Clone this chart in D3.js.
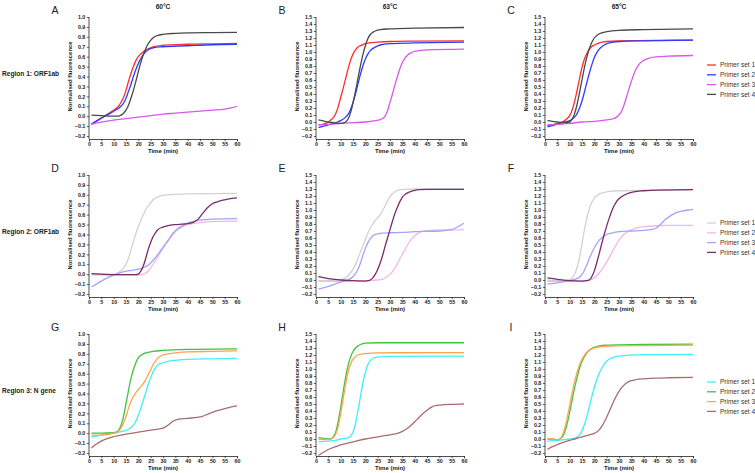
<!DOCTYPE html>
<html><head><meta charset="utf-8">
<script src="https://cdn.jsdelivr.net/npm/d3@7"></script>
<style>body{margin:0;background:#fff}svg{display:block}text{font-family:"Liberation Sans",Arial,sans-serif}</style>
</head><body><svg id="c" width="755" height="473"></svg>
<script>
// ---------- labels ----------
const temps = ["60°C", "63°C", "65°C"];
const panelLetters = ["A","B","C","D","E","F","G","H","I"];
const regionLabels = ["Region 1: ORF1ab", "Region 2: ORF1ab", "Region 3: N gene"];
const seriesNames = ["Primer set 1", "Primer set 2", "Primer set 3", "Primer set 4"];
const yMaxByPanel = [1.0, 1.5, 1.5, 1.0, 1.5, 1.5, 1.0, 1.5, 1.5];
const yMin = -0.2;
const xTicks = [0,5,10,15,20,25,30,35,40,45,50,55,60];
const xTitle = "Time (min)";
const yTitle = "Normalised fluorescence";

// ---------- data: [time (min), normalised fluorescence] ----------
const A1 = [[1,-0.08],[3,-0.05],[5,-0.02],[8,0.03],[10,0.06],[12,0.10],[13,0.14],[14,0.19],[15,0.26],[16,0.35],[17,0.43],[18,0.50],[19,0.56],[20,0.60],[22,0.65],[24,0.68],[26,0.70],[30,0.715],[40,0.725],[50,0.73],[60,0.735]];
const A2 = [[1,-0.08],[3,-0.05],[5,-0.02],[8,0.02],[10,0.05],[12,0.08],[13,0.10],[14,0.13],[15,0.18],[16,0.25],[17,0.32],[18,0.40],[19,0.47],[20,0.53],[21,0.58],[22,0.62],[24,0.67],[26,0.69],[30,0.70],[40,0.71],[50,0.72],[60,0.725]];
const A3 = [[1,-0.08],[5,-0.06],[10,-0.04],[15,-0.025],[20,-0.01],[25,0.005],[30,0.02],[35,0.03],[40,0.04],[45,0.05],[50,0.06],[55,0.07],[58,0.085],[60,0.10]];
const A4 = [[1,0.01],[5,0.005],[10,0.0],[12,0.0],[13,0.01],[14,0.03],[15,0.06],[16,0.11],[17,0.18],[18,0.26],[19,0.35],[20,0.45],[21,0.54],[22,0.62],[23,0.68],[24,0.73],[25,0.765],[26,0.79],[28,0.815],[30,0.825],[35,0.835],[40,0.84],[50,0.843],[60,0.845]];

const B1 = [[1,-0.04],[3,-0.03],[5,0.0],[6,0.03],[7,0.06],[8,0.12],[9,0.22],[10,0.35],[11,0.48],[12,0.62],[13,0.76],[14,0.88],[15,0.97],[16,1.03],[17,1.07],[18,1.09],[20,1.12],[25,1.14],[30,1.15],[40,1.155],[60,1.16]];
const B2 = [[1,-0.08],[3,-0.06],[5,-0.04],[8,-0.01],[10,0.02],[12,0.07],[13,0.11],[14,0.18],[15,0.28],[16,0.40],[17,0.54],[18,0.68],[19,0.80],[20,0.90],[21,0.97],[22,1.02],[24,1.07],[26,1.10],[30,1.12],[40,1.13],[60,1.14]];
const B3 = [[1,-0.04],[5,-0.035],[10,-0.02],[15,-0.01],[20,0.0],[24,0.02],[26,0.035],[27,0.05],[28,0.08],[29,0.16],[30,0.28],[31,0.40],[32,0.53],[33,0.65],[34,0.76],[35,0.85],[36,0.91],[37,0.95],[38,0.98],[40,1.01],[45,1.03],[60,1.04]];
const B4 = [[1,0.03],[3,0.015],[5,0.0],[8,-0.015],[10,-0.02],[11,-0.015],[12,0.0],[13,0.04],[14,0.13],[15,0.27],[16,0.44],[17,0.62],[18,0.80],[19,0.96],[20,1.09],[21,1.19],[22,1.25],[23,1.28],[24,1.30],[26,1.32],[30,1.33],[40,1.34],[60,1.35]];

const C1 = [[1,-0.05],[3,-0.04],[5,-0.02],[8,0.02],[9,0.05],[10,0.09],[11,0.17],[12,0.29],[13,0.45],[14,0.62],[15,0.78],[16,0.90],[17,0.98],[18,1.04],[19,1.08],[20,1.10],[22,1.13],[25,1.15],[30,1.16],[60,1.17]];
const C2 = [[1,-0.07],[3,-0.05],[5,-0.03],[8,0.0],[10,0.02],[11,0.04],[12,0.07],[13,0.12],[14,0.20],[15,0.30],[16,0.43],[17,0.57],[18,0.70],[19,0.82],[20,0.92],[21,0.99],[22,1.04],[24,1.10],[26,1.13],[30,1.15],[40,1.16],[60,1.17]];
const C3 = [[1,-0.04],[5,-0.035],[10,-0.02],[15,0.0],[20,0.01],[25,0.03],[28,0.05],[29,0.07],[30,0.10],[31,0.15],[32,0.24],[33,0.35],[34,0.47],[35,0.58],[36,0.68],[37,0.76],[38,0.82],[40,0.88],[42,0.91],[45,0.93],[50,0.94],[60,0.95]];
const C4 = [[1,0.02],[3,0.01],[5,0.0],[8,-0.01],[10,0.0],[11,0.04],[12,0.12],[13,0.25],[14,0.42],[15,0.60],[16,0.78],[17,0.93],[18,1.05],[19,1.14],[20,1.20],[22,1.26],[25,1.29],[30,1.31],[40,1.32],[60,1.33]];

const D1 = [[1,0.0],[5,0.0],[10,0.0],[12,0.02],[14,0.06],[15,0.10],[16,0.16],[17,0.24],[18,0.33],[19,0.41],[20,0.48],[21,0.54],[22,0.60],[23,0.65],[24,0.69],[25,0.72],[26,0.75],[28,0.78],[30,0.795],[35,0.805],[40,0.81],[60,0.815]];
const D2 = [[1,-0.01],[10,-0.01],[20,-0.01],[22,0.0],[24,0.03],[25,0.06],[26,0.10],[28,0.18],[30,0.26],[32,0.33],[34,0.40],[36,0.45],[38,0.48],[40,0.50],[42,0.51],[45,0.52],[50,0.53],[60,0.535]];
const D3 = [[1,-0.13],[3,-0.10],[5,-0.07],[8,-0.03],[10,-0.01],[12,0.01],[15,0.03],[18,0.04],[20,0.05],[22,0.065],[24,0.09],[26,0.14],[28,0.20],[30,0.27],[32,0.34],[34,0.41],[36,0.46],[38,0.49],[40,0.515],[42,0.53],[45,0.545],[50,0.555],[60,0.56]];
const D4 = [[1,0.005],[5,0.0],[10,-0.005],[15,-0.005],[19,-0.005],[20,0.0],[21,0.03],[22,0.08],[23,0.16],[24,0.25],[25,0.32],[26,0.38],[27,0.42],[28,0.45],[30,0.475],[32,0.49],[35,0.50],[38,0.505],[40,0.51],[42,0.52],[44,0.55],[46,0.61],[48,0.67],[50,0.71],[52,0.73],[55,0.75],[58,0.765],[60,0.77]];

const E1 = [[1,-0.01],[5,-0.01],[10,0.0],[12,0.03],[14,0.10],[16,0.22],[18,0.40],[20,0.58],[21,0.67],[22,0.74],[23,0.80],[24,0.85],[25,0.89],[26,0.93],[27,0.99],[28,1.06],[29,1.13],[30,1.19],[32,1.26],[34,1.29],[36,1.295],[40,1.30],[60,1.30]];
const E2 = [[1,-0.02],[10,-0.02],[20,-0.01],[25,0.0],[27,0.01],[28,0.03],[30,0.08],[32,0.17],[34,0.30],[36,0.43],[38,0.55],[40,0.63],[42,0.68],[44,0.70],[46,0.71],[50,0.715],[55,0.715],[60,0.72]];
const E3 = [[1,-0.13],[5,-0.09],[10,-0.03],[12,-0.01],[14,0.02],[15,0.05],[16,0.09],[17,0.15],[18,0.24],[19,0.35],[20,0.45],[21,0.53],[22,0.59],[23,0.63],[24,0.65],[25,0.66],[27,0.67],[30,0.675],[35,0.68],[40,0.69],[45,0.695],[50,0.70],[53,0.71],[55,0.72],[57,0.75],[60,0.81]];
const E4 = [[1,0.05],[3,0.035],[5,0.02],[8,0.01],[10,0.0],[15,-0.01],[20,-0.015],[21,-0.01],[22,0.0],[23,0.03],[24,0.08],[25,0.15],[26,0.24],[27,0.35],[28,0.48],[29,0.60],[30,0.72],[31,0.84],[32,0.95],[33,1.04],[34,1.12],[35,1.18],[36,1.22],[38,1.26],[40,1.28],[42,1.29],[45,1.295],[60,1.295]];

const F1 = [[1,0.0],[5,-0.01],[10,0.0],[11,0.03],[12,0.08],[13,0.18],[14,0.33],[15,0.52],[16,0.72],[17,0.89],[18,1.02],[19,1.11],[20,1.17],[22,1.23],[24,1.25],[26,1.265],[30,1.275],[40,1.28],[60,1.29]];
const F2 = [[1,-0.02],[10,-0.02],[15,-0.015],[18,0.0],[20,0.03],[22,0.10],[24,0.20],[26,0.32],[28,0.45],[30,0.57],[32,0.65],[34,0.70],[36,0.73],[38,0.75],[40,0.76],[45,0.775],[50,0.78],[60,0.78]];
const F3 = [[1,-0.06],[5,-0.04],[10,-0.01],[12,0.01],[14,0.04],[15,0.08],[16,0.14],[17,0.22],[18,0.31],[19,0.39],[20,0.46],[21,0.52],[22,0.57],[23,0.60],[24,0.63],[25,0.65],[27,0.67],[30,0.69],[35,0.70],[40,0.71],[43,0.72],[45,0.74],[47,0.80],[49,0.87],[51,0.92],[53,0.96],[55,0.98],[58,1.00],[60,1.01]];
const F4 = [[1,0.03],[5,0.01],[10,-0.01],[15,-0.015],[17,-0.01],[18,0.0],[19,0.05],[20,0.13],[21,0.25],[22,0.38],[23,0.52],[24,0.65],[25,0.77],[26,0.88],[27,0.98],[28,1.06],[29,1.12],[30,1.16],[32,1.21],[34,1.24],[36,1.26],[40,1.275],[45,1.285],[60,1.29]];

const G1 = [[1,-0.04],[5,-0.02],[10,0.0],[12,0.01],[14,0.02],[16,0.04],[18,0.08],[19,0.12],[20,0.18],[21,0.25],[22,0.33],[23,0.41],[24,0.49],[25,0.56],[26,0.62],[27,0.66],[28,0.69],[30,0.71],[32,0.725],[35,0.735],[40,0.745],[50,0.75],[60,0.755]];
const G2 = [[1,0.0],[5,0.0],[10,0.005],[11,0.01],[12,0.03],[13,0.08],[14,0.17],[15,0.30],[16,0.43],[17,0.55],[18,0.64],[19,0.71],[20,0.76],[22,0.80],[24,0.815],[26,0.825],[30,0.835],[40,0.845],[60,0.85]];
const G3 = [[1,-0.02],[5,-0.02],[10,0.0],[12,0.02],[13,0.05],[14,0.10],[15,0.17],[16,0.25],[17,0.32],[18,0.37],[19,0.41],[20,0.44],[21,0.47],[22,0.50],[23,0.54],[24,0.59],[25,0.64],[26,0.69],[27,0.73],[28,0.76],[30,0.79],[32,0.80],[35,0.81],[40,0.82],[50,0.825],[60,0.83]];
const G4 = [[1,-0.15],[3,-0.11],[5,-0.08],[8,-0.05],[10,-0.035],[12,-0.025],[15,-0.01],[20,0.01],[25,0.03],[30,0.05],[32,0.08],[34,0.12],[36,0.14],[40,0.15],[44,0.16],[46,0.17],[48,0.19],[50,0.21],[54,0.24],[57,0.26],[60,0.275]];

const H1 = [[1,-0.04],[5,-0.03],[8,-0.02],[10,0.0],[12,0.01],[13,0.02],[14,0.04],[15,0.10],[16,0.22],[17,0.40],[18,0.60],[19,0.80],[20,0.95],[21,1.06],[22,1.12],[23,1.15],[25,1.17],[30,1.18],[60,1.185]];
const H2 = [[1,0.02],[3,0.01],[5,0.0],[6,0.0],[7,0.03],[8,0.10],[9,0.25],[10,0.45],[11,0.67],[12,0.88],[13,1.05],[14,1.17],[15,1.25],[16,1.30],[17,1.33],[18,1.35],[20,1.37],[25,1.375],[60,1.375]];
const H3 = [[1,0.0],[5,-0.01],[6,0.0],[7,0.02],[8,0.07],[9,0.18],[10,0.36],[11,0.57],[12,0.78],[13,0.95],[14,1.07],[15,1.14],[16,1.18],[17,1.20],[18,1.21],[20,1.22],[25,1.23],[60,1.235]];
const H4 = [[1,-0.235],[3,-0.19],[5,-0.15],[8,-0.11],[10,-0.085],[12,-0.065],[15,-0.04],[20,0.0],[25,0.03],[30,0.06],[33,0.08],[35,0.11],[37,0.15],[39,0.21],[41,0.28],[43,0.35],[45,0.41],[47,0.46],[49,0.48],[52,0.49],[56,0.495],[60,0.50]];

const I1 = [[1,-0.03],[5,-0.02],[8,-0.01],[10,0.0],[12,0.01],[13,0.03],[14,0.06],[15,0.12],[16,0.21],[17,0.33],[18,0.47],[19,0.61],[20,0.74],[21,0.85],[22,0.94],[23,1.01],[24,1.07],[25,1.11],[26,1.14],[28,1.17],[30,1.185],[35,1.20],[40,1.205],[60,1.21]];
const I2 = [[1,0.0],[3,0.0],[5,-0.01],[6,0.0],[7,0.03],[8,0.10],[9,0.22],[10,0.38],[11,0.56],[12,0.73],[13,0.88],[14,1.01],[15,1.11],[16,1.18],[17,1.23],[18,1.27],[20,1.31],[22,1.33],[25,1.34],[30,1.345],[40,1.35],[60,1.355]];
const I3 = [[1,0.01],[3,0.0],[5,-0.01],[6,0.0],[7,0.05],[8,0.15],[9,0.30],[10,0.48],[11,0.66],[12,0.82],[13,0.95],[14,1.06],[15,1.14],[16,1.20],[17,1.24],[18,1.27],[20,1.30],[22,1.315],[25,1.325],[30,1.33],[40,1.335],[60,1.34]];
const I4 = [[1,-0.15],[3,-0.11],[5,-0.08],[8,-0.04],[10,-0.02],[12,0.0],[15,0.03],[18,0.06],[20,0.08],[21,0.10],[22,0.13],[23,0.18],[24,0.24],[25,0.31],[26,0.39],[27,0.47],[28,0.55],[29,0.62],[30,0.68],[31,0.73],[32,0.77],[33,0.80],[34,0.82],[36,0.84],[38,0.855],[40,0.86],[45,0.87],[50,0.875],[60,0.88]];

const panelData = [[A1,A2,A3,A4],[B1,B2,B3,B4],[C1,C2,C3,C4],
                   [D1,D2,D3,D4],[E1,E2,E3,E4],[F1,F2,F3,F4],
                   [G1,G2,G3,G4],[H1,H2,H3,H4],[I1,I2,I3,I4]];

// ---------- styles / layout ----------
const rowColors = [
  ["#ff2d2d", "#2f3cff", "#d65ae8", "#4a4a4a"],
  ["#d2d2d2", "#f6b6ea", "#a3a3fb", "#7a2c6c"],
  ["#3ff0f7", "#3fc43f", "#ffa450", "#a86e6e"]
];
const colX = [89, 316, 545];
const rowTop = [17, 175, 334];
const plotW = 148, plotH = 119;
const FONT = "'Liberation Sans', Arial, sans-serif";

const svg = d3.select("#c");
const x = d3.scaleLinear().domain([0, 60]);
const fmt = d3.format(".1f");

panelData.forEach((series, i) => {
  const r = Math.floor(i / 3), c = i % 3;
  const x0 = colX[c], y0 = rowTop[r];
  const yMax = yMaxByPanel[i];
  const xs = d3.scaleLinear().domain([0, 60]).range([x0, x0 + plotW]);
  const ys = d3.scaleLinear().domain([yMin, yMax]).range([y0 + plotH, y0]);
  const axisY = y0 + plotH + 3;
  const g = svg.append("g");

  // y axis
  const yTicks = d3.range(Math.round(yMin * 10), Math.round(yMax * 10) + 1).map(v => v / 10);
  const yAx = d3.axisLeft(ys).tickValues(yTicks).tickFormat(fmt).tickSize(2.2).tickPadding(1.5);
  const yg = g.append("g").attr("transform", `translate(${x0},0)`).call(yAx);
  yg.select(".domain").attr("d", `M-0,${ys(yMax)}V${axisY}`);
  // x axis
  const xAx = d3.axisBottom(xs).tickValues(xTicks).tickSize(2.2).tickPadding(1);
  const xg = g.append("g").attr("transform", `translate(0,${axisY})`).call(xAx);
  [yg, xg].forEach(a => {
    a.select(".domain").attr("stroke", "#222").attr("stroke-width", 0.8);
    a.selectAll(".tick line").attr("stroke", "#222").attr("stroke-width", 0.7);
    a.selectAll("text").attr("font-family", FONT).attr("font-size", 5.3)
      .attr("font-weight", "bold").attr("fill", "#222");
  });

  // lines
  const line = d3.line().x(d => xs(d[0])).y(d => ys(d[1])).curve(d3.curveMonotoneX);
  g.append("g").selectAll("path").data(series).join("path")
    .attr("d", line).attr("fill", "none")
    .attr("stroke", (d, k) => rowColors[r][k]).attr("stroke-width", 1.3);

  // axis titles
  g.append("text").attr("x", x0 + plotW / 2).attr("y", axisY + 14)
    .attr("text-anchor", "middle").attr("font-size", 6).attr("font-weight", "bold")
    .attr("fill", "#222").text(xTitle);
  g.append("text").attr("transform", `translate(${x0 - 17},${y0 + plotH / 2}) rotate(-90)`)
    .attr("text-anchor", "middle").attr("font-size", 5.9).attr("font-weight", "bold")
    .attr("fill", "#222").text(yTitle);

  // panel letter
  g.append("text").attr("x", x0 - 34).attr("y", y0 - 3)
    .attr("text-anchor", "middle").attr("font-size", 10.5).attr("fill", "#222")
    .text(panelLetters[i]);

  // temperature title (top row)
  if (r === 0) {
    g.append("text").attr("x", x0 + plotW / 2).attr("y", 8.5)
      .attr("text-anchor", "middle").attr("font-size", 6.6).attr("font-weight", "bold")
      .attr("fill", "#222").text(temps[c]);
  }

  // legend (right column)
  if (c === 2) {
    const lg = g.append("g");
    seriesNames.forEach((name, k) => {
      const ly = y0 + 48 + k * 9.8;
      lg.append("line").attr("x1", 707).attr("x2", 716).attr("y1", ly).attr("y2", ly)
        .attr("stroke", rowColors[r][k]).attr("stroke-width", 1.3);
      lg.append("text").attr("x", 720).attr("y", ly + 2.2).attr("font-size", 6.5)
        .attr("fill", "#333").text(name);
    });
  }
});

// region labels
regionLabels.forEach((t, r) => {
  svg.append("text").attr("x", 2).attr("y", rowTop[r] + 58.5)
    .attr("font-size", 6.6).attr("font-weight", "bold").attr("fill", "#222").text(t);
});
</script>
</body></html>
